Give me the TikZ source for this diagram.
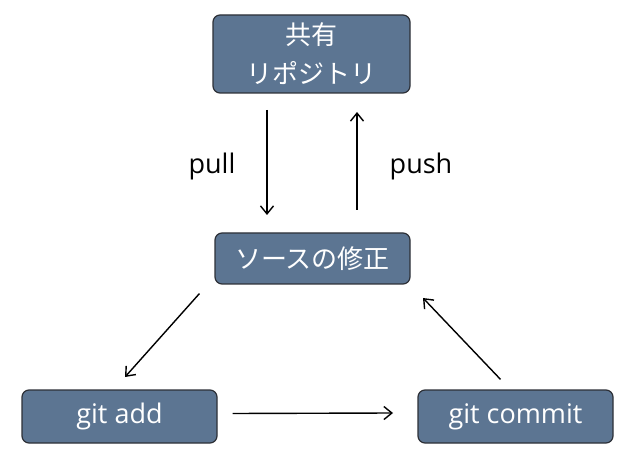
\documentclass[tikz,border=0pt]{standalone}
\usepackage{fontspec}
\setmainfont{Noto Sans CJK JP}
\newfontfamily\latinfont{Open Sans}
\usetikzlibrary{arrows.meta}
\definecolor{boxfill}{RGB}{92,117,146}
\definecolor{boxline}{RGB}{45,48,55}
\tikzset{
  box/.style={draw=boxline, line width=1.2pt, fill=boxfill, rounded corners=7pt,
    text=white, font=\fontsize{26}{39}\selectfont, align=center, inner sep=0pt},
  gitbox/.style={box, font=\latinfont\fontsize{27}{32}\selectfont},
  flow/.style={draw=black, line width=1.4pt, -{Straight Barb[length=8pt,width=13pt,line width=1.4pt]}},
  lbl/.style={font=\latinfont\fontsize{27}{32}\selectfont, text=black}
}
\begin{document}
\begin{tikzpicture}[x=1pt,y=-1pt]
\useasboundingbox (0,0) rectangle (640,454);
\node[box, minimum width=197pt, minimum height=78pt] (repo) at (311.5,54) {共有\\リポジトリ};
\node[box, minimum width=195pt, minimum height=51pt] (src) at (312.5,258.5) {ソースの修正};
\node[gitbox, minimum width=195pt, minimum height=53pt] (add) at (119.5,416.5) {git add};
\node[gitbox, minimum width=195pt, minimum height=53pt] (commit) at (515.5,416.5) {git commit};
\coordinate (p1) at (267,110); \coordinate (p2) at (267,215);
\coordinate (q1) at (357,210); \coordinate (q2) at (357,112);
\draw[flow] (p1) -- (p2);
\draw[flow] (q1) -- (q2);
\node[lbl] (pull) at (212,166) {pull};
\node[lbl] (push) at (421,166) {push};
\draw[flow] (src.south west) ++(-15,9) coordinate (a1) -- (125,377);
\draw[flow] (add.east) ++(15,-3) coordinate (b1) -- (393,413);
\draw[flow] (commit.north) ++(-15,-10) coordinate (c1) -- (423,298);
\end{tikzpicture}
\end{document}
